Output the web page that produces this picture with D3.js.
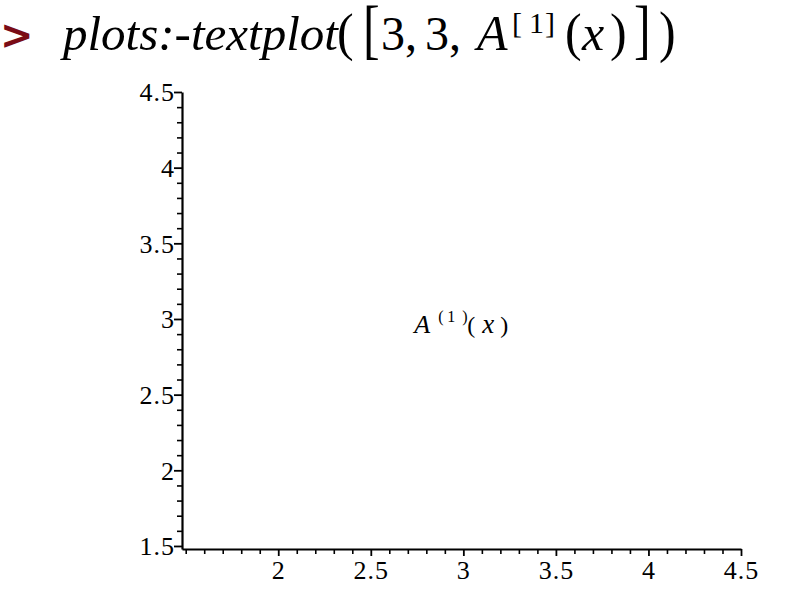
<!DOCTYPE html>
<html>
<head>
<meta charset="utf-8">
<script src="https://cdn.jsdelivr.net/npm/d3@7"></script>
<style>
  html, body { margin: 0; padding: 0; background: #fff; }
  svg { display: block; }
</style>
</head>
<body>
<svg id="chart" width="810" height="590"></svg>
<script>
// ---- data ----
const xDomain = [1.48, 4.5];
const yDomain = [1.48, 4.5];
const xMajorTicks = [2, 2.5, 3, 3.5, 4, 4.5];
const xTickLabels = ["2", "2.5", "3", "3.5", "4", "4.5"];
const yMajorTicks = [1.5, 2, 2.5, 3, 3.5, 4, 4.5];
const yTickLabels = ["1.5", "2", "2.5", "3", "3.5", "4", "4.5"];
const textPoint = [3, 3];
const labelBase = "A";
const labelSup = ["(", "1", ")"];
const labelArg = "x";

const svg = d3.select("#chart");
const serif = "'Liberation Serif', 'Times New Roman', serif";

const x = d3.scaleLinear().domain(xDomain).range([182, 741]);
const y = d3.scaleLinear().domain(yDomain).range([549, 92]);

const minorX = d3.range(15, 46).map(v => v / 10).filter(v => !xMajorTicks.includes(v));
const minorY = d3.range(15, 46).map(v => v / 10).filter(v => !yMajorTicks.includes(v));

// ---- title (Maple input line) ----
const title = svg.append("g").attr("font-family", serif).attr("fill", "#000");
svg.append("text").attr("x", 0).attr("y", 49)
  .attr("font-family", "'DejaVu Sans', sans-serif").attr("font-weight", "bold")
  .attr("font-size", 40).attr("fill", "#7a0c16").text(">");
title.append("text").attr("x", 63).attr("y", 50).attr("font-size", 49)
  .attr("font-style", "italic").text("plots:-textplot");
function piece(txt, px, base, size, opts = {}) {
  const t = title.append("text")
    .attr("transform", `translate(${px},${base}) scale(1,${opts.sy || 1})`)
    .attr("font-size", size).text(txt);
  if (opts.italic) t.attr("font-style", "italic");
  return t;
}
piece("(", 337, 50, 50, {sy: 1.05});
piece("[", 363, 51, 50, {sy: 1.3});
piece("3,", 381, 50, 48);
piece("3,", 425, 50, 48);
piece("A", 477, 50, 50, {italic: true});
piece("[", 512, 33, 30);
piece("1", 529, 33, 30);
piece("]", 545, 33, 30);
piece("(", 565, 50, 50, {sy: 1.05});
piece("x", 582, 50, 50, {italic: true});
piece(")", 610, 50, 50, {sy: 1.05});
piece("]", 634, 51, 50, {sy: 1.3});
piece(")", 659, 51, 50, {sy: 1.15});

// ---- axes ----
const xAxisY = y(yDomain[0]);
const yAxisX = x(xDomain[0]);

// x axis
const gx = svg.append("g").attr("transform", `translate(0,${xAxisY})`);
gx.call(d3.axisBottom(x).tickValues(minorX).tickSize(5).tickSizeOuter(0).tickFormat(""));
gx.selectAll(".tick line").attr("stroke-width", 1.6).attr("stroke", "#000");
gx.select(".domain").attr("stroke-width", 2.2).attr("stroke", "#000");
const gx2 = svg.append("g").attr("transform", `translate(0,${xAxisY})`);
gx2.call(d3.axisBottom(x).tickValues(xMajorTicks).tickSize(7).tickSizeOuter(0)
  .tickFormat((d, i) => xTickLabels[i]));
gx2.select(".domain").remove();
gx2.selectAll(".tick line").attr("stroke-width", 1.8).attr("stroke", "#000");
gx2.selectAll(".tick text").attr("font-family", serif).attr("font-size", 26)
  .attr("letter-spacing", 1).attr("fill", "#000").attr("y", 12).attr("dy", "0.71em");

// y axis
const gy = svg.append("g").attr("transform", `translate(${yAxisX},0)`);
gy.call(d3.axisLeft(y).tickValues(minorY).tickSize(5).tickSizeOuter(0).tickFormat(""));
gy.selectAll(".tick line").attr("stroke-width", 1.6).attr("stroke", "#000");
gy.select(".domain").attr("stroke-width", 2.2).attr("stroke", "#000");
const gy2 = svg.append("g").attr("transform", `translate(${yAxisX},0)`);
gy2.call(d3.axisLeft(y).tickValues(yMajorTicks).tickSize(8).tickSizeOuter(0)
  .tickFormat((d, i) => yTickLabels[i]));
gy2.select(".domain").remove();
gy2.selectAll(".tick line").attr("stroke-width", 1.8).attr("stroke", "#000");
gy2.selectAll(".tick text").attr("font-family", serif).attr("font-size", 26)
  .attr("letter-spacing", 1).attr("fill", "#000").attr("x", -7).attr("dy", "0.34em");

// ---- text plot label at (3,3) ----
const lx = x(textPoint[0]), ly = y(textPoint[1]);
const lab = svg.append("g").attr("font-family", serif).attr("fill", "#000");
lab.append("text").attr("x", lx - 49).attr("y", ly + 14).attr("font-size", 26)
  .attr("font-style", "italic").text(labelBase);
const supX = [lx - 25, lx - 16, lx - 1];
labelSup.forEach((s, i) => {
  lab.append("text").attr("x", supX[i]).attr("y", ly + 3).attr("font-size", 16).text(s);
});
lab.append("text").attr("x", lx + 4).attr("y", ly + 14).attr("font-size", 24).text("(");
lab.append("text").attr("x", lx + 19).attr("y", ly + 14).attr("font-size", 27)
  .attr("font-style", "italic").text(labelArg);
lab.append("text").attr("x", lx + 37).attr("y", ly + 14).attr("font-size", 24).text(")");
</script>
</body>
</html>
